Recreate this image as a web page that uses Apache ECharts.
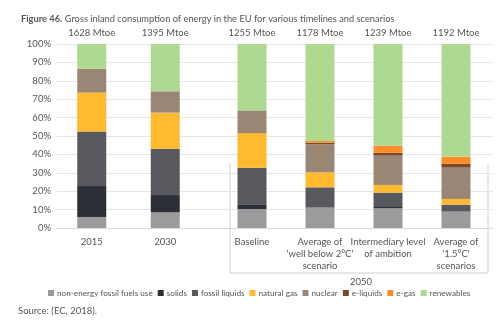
<!DOCTYPE html>
<html><head><meta charset="utf-8">
<script src="https://cdn.jsdelivr.net/npm/echarts@6/dist/echarts.min.js"></script>
<style>html,body{margin:0;padding:0;background:#fff}#c{width:500px;height:328px}</style>
</head><body><div id="c"></div>
<script>
var categoriesA = ['2015', '2030'];
var categoriesB = ['Baseline', "Average of\n'well below 2°C'\nscenario", 'Intermediary level\nof ambition', "Average of\n'1.5°C'\nscenarios"];
var totals = ['1628 Mtoe', '1395 Mtoe', '1255 Mtoe', '1178 Mtoe', '1239 Mtoe', '1192 Mtoe'];
var yTicks = [0, 10, 20, 30, 40, 50, 60, 70, 80, 90, 100];
var seriesNames = ['non-energy fossil fuels use', 'solids', 'fossil liquids', 'natural gas', 'nuclear', 'e-liquids', 'e-gas', 'renewables'];
var nonEnergy = [6.0, 8.5, 10.3, 11.1, 10.7, 8.9];
var solids = [16.8, 9.4, 2.6, 0, 0.7, 0];
var fossilLiquids = [29.6, 25.2, 19.9, 11.0, 7.8, 3.8];
var naturalGas = [21.2, 19.6, 18.8, 8.2, 4.2, 3.1];
var nuclear = [13.0, 11.6, 12.3, 15.2, 15.9, 17.0];
var eLiquids = [0, 0, 0, 0.9, 1.6, 2.2];
var eGas = [0, 0, 0, 0.9, 3.8, 3.8];
var renewables = [13.4, 25.7, 36.1, 52.7, 55.3, 61.2];

var values = [nonEnergy, solids, fossilLiquids, naturalGas, nuclear, eLiquids, eGas, renewables];
var colors = ['#9b9b9e', '#2d2f36', '#58595e', '#ffba2f', '#998675', '#7a4a28', '#ff8c26', '#aed991'];
var txt = '#555';
var font = 'Lato';

var chart = echarts.init(document.getElementById('c'), null, {renderer: 'canvas'});
var series = [];
values.forEach(function (arr, i) {
  series.push({name: seriesNames[i], type: 'bar', stack: 'a', xAxisIndex: 1, yAxisIndex: 1, barWidth: 29,
    itemStyle: {color: colors[i]}, data: arr.slice(0, 2)});
  series.push({name: seriesNames[i], type: 'bar', stack: 'b', xAxisIndex: 3, yAxisIndex: 2, barWidth: 29,
    itemStyle: {color: colors[i]}, data: arr.slice(2)});
});

var hiddenY = {type: 'value', min: 0, max: 100, interval: 10, show: false};
var catAxisBottom = function (grid, cats) {
  return {type: 'category', gridIndex: grid, data: cats, position: 'bottom',
    axisLine: {show: false}, axisTick: {show: false},
    axisLabel: {color: txt, fontSize: 9.5, fontFamily: font, margin: 8, lineHeight: 12, interval: 0}};
};
var catAxisTop = function (grid, labels) {
  return {type: 'category', gridIndex: grid, data: labels, position: 'top',
    axisLine: {show: false}, axisTick: {show: false},
    axisLabel: {color: txt, fontSize: 9.5, fontFamily: font, margin: 6, interval: 0}};
};

chart.setOption({
  animation: false,
  textStyle: {fontFamily: font},
  title: {left: 16, top: 9, text: '{b|Figure 46.} Gross inland consumption of energy in the EU for various timelines and scenarios',
    textStyle: {fontSize: 9.3, fontWeight: 'normal', color: txt, fontFamily: font,
      rich: {b: {fontSize: 9.3, fontWeight: 'bold', color: txt, fontFamily: font}}}},
  grid: [
    {left: 57, right: 7, top: 44, bottom: 100},
    {left: 55, width: 147, top: 44, bottom: 100},
    {left: 218, width: 272, top: 44, bottom: 100}
  ],
  xAxis: [
    {type: 'value', gridIndex: 0, min: 0, max: 1, axisLabel: {show: false}, splitLine: {show: false}, axisTick: {show: false},
      axisLine: {show: true, lineStyle: {color: '#d9d9d9', width: 1}}},
    catAxisBottom(1, categoriesA),
    catAxisTop(1, totals.slice(0, 2)),
    catAxisBottom(2, categoriesB),
    catAxisTop(2, totals.slice(2))
  ],
  yAxis: [
    {type: 'value', gridIndex: 0, min: yTicks[0], max: yTicks[yTicks.length - 1], interval: 10,
      axisLabel: {formatter: '{value}%', color: txt, fontSize: 9.5, fontFamily: font, margin: 6},
      axisLine: {show: false}, axisTick: {show: false},
      splitLine: {lineStyle: {color: '#e6e6e6', width: 1}}},
    Object.assign({gridIndex: 1}, hiddenY),
    Object.assign({gridIndex: 2}, hiddenY)
  ],
  legend: {left: 48, width: 450, top: 289, itemWidth: 6, itemHeight: 6, itemGap: 5, icon: 'rect', padding: 0,
    textStyle: {color: txt, fontSize: 8.2, fontFamily: font, padding: [0, 0, 0, -2]},
    data: seriesNames},
  graphic: [
    {type: 'polyline', shape: {points: [[230, 163], [230, 273], [488, 273], [488, 165]]},
      style: {stroke: '#cfcfcf', lineWidth: 1, fill: null}, silent: true},
    {type: 'text', left: 350, top: 277, style: {text: '2050', fill: txt, fontSize: 9.5, fontFamily: font}},
    {type: 'text', left: 18, top: 306, style: {text: 'Source: (EC, 2018).', fill: txt, fontSize: 9.5, fontFamily: font}}
  ],
  series: series
});
</script></body></html>
